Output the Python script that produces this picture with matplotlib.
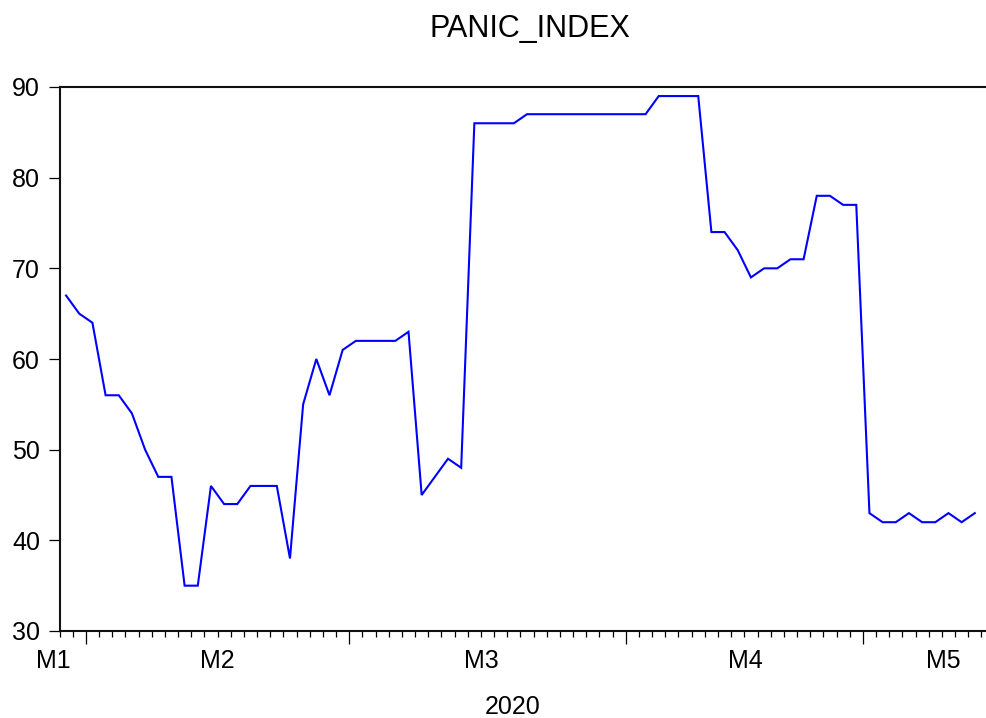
import matplotlib
matplotlib.use("Agg")
import matplotlib.pyplot as plt
import matplotlib.transforms as mtransforms

plt.rcParams['font.family'] = ['Liberation Sans', 'DejaVu Sans']

title = "PANIC_INDEX"
year_label = "2020"
panic_index = [67, 65, 64, 56, 56, 54, 50, 47, 47, 35,
               35, 46, 44, 44, 46, 46, 46, 38, 55, 60,
               56, 61, 62, 62, 62, 62, 63, 45, 47, 49,
               48, 86, 86, 86, 86, 87, 87, 87, 87, 87,
               87, 87, 87, 87, 87, 89, 89, 89, 89, 74,
               74, 72, 69, 70, 70, 71, 71, 78, 78, 77,
               77, 43, 42, 42, 43, 42, 42, 43, 42, 43]
month_labels = ["M1", "M2", "M3", "M4", "M5"]
month_label_pos = [-1.0, 11.45, 31.55, 51.55, 66.6]
month_boundaries = [1.5, 21.5, 42.5, 60.5]
y_ticks = [30, 40, 50, 60, 70, 80, 90]

fig = plt.figure(figsize=(9.86, 7.18), dpi=100)
ax = fig.add_axes([59.5 / 986, 1 - 631 / 718, (986 - 59.5) / 986, (631 - 87) / 718])

x = list(range(len(panic_index)))
ax.plot(x, panic_index, color=(0, 0, 1), lw=1.5, solid_joinstyle='miter')

ax.set_xlim(-0.5, 69.85)
ax.set_ylim(30, 90)
ax.set_yticks(y_ticks)
ax.set_yticklabels([str(v) for v in y_ticks], fontsize=18)
ax.tick_params(axis='y', direction='out', length=8, width=0.9, pad=6, colors='black')

ax.set_xticks(month_boundaries)
ax.set_xticklabels([])
ax.set_xticks([i - 0.5 for i in range(len(panic_index) + 1)], minor=True)
ax.tick_params(axis='x', which='major', direction='out', length=9, width=0.9)
ax.tick_params(axis='x', which='minor', direction='out', length=4.5, width=0.9)

for s in ['left', 'bottom', 'top']:
    ax.spines[s].set_linewidth(1.5)
    ax.spines[s].set_color('#111111')
ax.spines['right'].set_visible(False)

trans = mtransforms.blended_transform_factory(ax.transData, ax.transAxes)
for lab, pos in zip(month_labels, month_label_pos):
    ax.text(pos, -(661 - 631) / 544, lab, transform=trans, ha='center', va='center',
            fontsize=18, clip_on=False)

fig.text(513 / 986, 1 - 707 / 718, year_label, ha='center', va='center', fontsize=18)
fig.text(530 / 986, 1 - 29 / 718, title, ha='center', va='center', fontsize=22)

fig.savefig("out.png", dpi=100)
